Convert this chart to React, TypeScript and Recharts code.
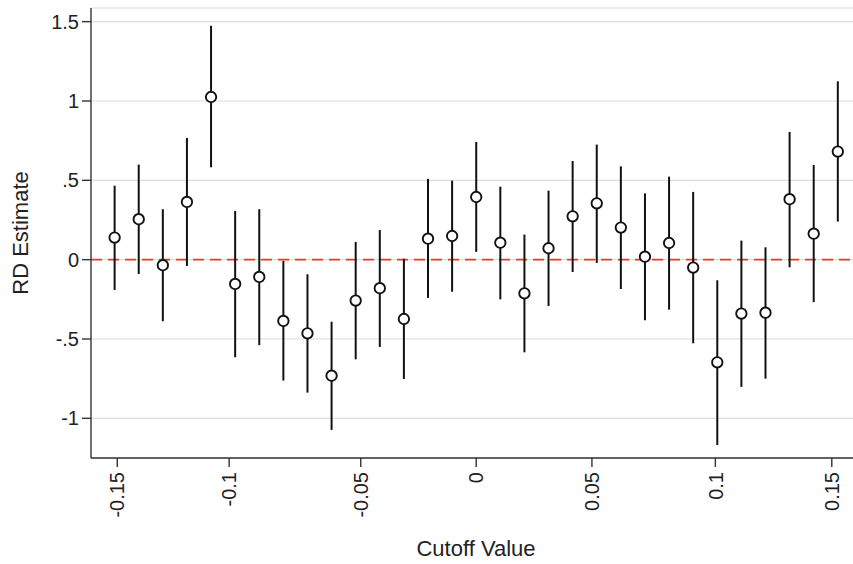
import { ScatterChart, Scatter, XAxis, YAxis, CartesianGrid, ErrorBar, ReferenceLine } from "recharts";

// cutoff values of each RD estimate
const cutoffs = [
  -0.15, -0.14, -0.13, -0.12, -0.11, -0.1, -0.09, -0.08, -0.07, -0.06, -0.05,
  -0.04, -0.03, -0.02, -0.01, 0, 0.01, 0.02, 0.03, 0.04, 0.05,
  0.06, 0.07, 0.08, 0.09, 0.1, 0.11, 0.12, 0.13, 0.14, 0.15,
];

const estimates = [
  0.139, 0.255, -0.035, 0.364, 1.025, -0.153, -0.109, -0.386, -0.464, -0.731, -0.258,
  -0.18, -0.374, 0.132, 0.149, 0.395, 0.107, -0.212, 0.072, 0.273, 0.355,
  0.202, 0.019, 0.105, -0.05, -0.647, -0.34, -0.334, 0.381, 0.164, 0.681,
];

const lower = [
  -0.191, -0.09, -0.388, -0.04, 0.582, -0.615, -0.539, -0.762, -0.838, -1.073, -0.628,
  -0.55, -0.752, -0.241, -0.202, 0.049, -0.25, -0.584, -0.292, -0.078, -0.021,
  -0.185, -0.382, -0.315, -0.527, -1.168, -0.802, -0.75, -0.048, -0.268, 0.24,
];

const upper = [
  0.466, 0.599, 0.318, 0.767, 1.474, 0.307, 0.318, -0.008, -0.092, -0.391, 0.112,
  0.187, 0.006, 0.509, 0.498, 0.742, 0.46, 0.158, 0.435, 0.622, 0.725,
  0.588, 0.418, 0.523, 0.427, -0.13, 0.12, 0.078, 0.805, 0.597, 1.124,
];

// x tick marks sit where the original graph put them
const xTickPos = [-0.1489, -0.1025, -0.0479, 0, 0.048, 0.0992, 0.1475];
const xTickLabels = ["-0.15", "-0.1", "-0.05", "0", "0.05", "0.1", "0.15"];

const yTicks = [-1, -0.5, 0, 0.5, 1, 1.5];
const yTickLabels = ["-1", "-.5", "0", ".5", "1", "1.5"];

const data = cutoffs.map((c, i) => ({
  x: c,
  y: estimates[i],
  err: [estimates[i] - lower[i], upper[i] - estimates[i]],
}));

const font = "'Liberation Sans', Arial, sans-serif";

const XTick = (props: any) => {
  const { x, y, index } = props;
  return (
    <text
      x={x}
      y={y}
      transform={`rotate(-90 ${x} ${y})`}
      textAnchor="end"
      dy="0.36em"
      fontSize={20}
      fill="#222"
      fontFamily={font}
    >
      {xTickLabels[index]}
    </text>
  );
};

const HollowCircle = (props: any) => (
  <circle cx={props.cx} cy={props.cy} r={5.2} fill="#fff" stroke="#111" strokeWidth={1.9} />
);

export default function App() {
  return (
    <div style={{ position: "absolute", left: 0, top: 0, background: "#fff", fontFamily: font }}>
      <ScatterChart width={853} height={564} margin={{ top: 8, right: 0, bottom: 0, left: 0 }}>
        <CartesianGrid vertical={false} stroke="#dcdcdc" strokeWidth={1.2} />
        <XAxis
          type="number"
          dataKey="x"
          domain={[-0.1598, 0.1563]}
          allowDataOverflow
          ticks={xTickPos}
          interval={0}
          height={106}
          tickSize={9}
          tickMargin={5}
          tick={<XTick />}
          stroke="#333"
          strokeWidth={1.4}
          label={{
            content: () => (
              <text x={476} y={556} textAnchor="middle" fontSize={22} fill="#222" fontFamily={font}>
                Cutoff Value
              </text>
            ),
          }}
        />
        <YAxis
          type="number"
          dataKey="y"
          domain={[-1.25, 1.586]}
          allowDataOverflow
          ticks={yTicks}
          interval={0}
          width={91}
          tickSize={9}
          tickMargin={3}
          tickFormatter={(v: number) => yTickLabels[yTicks.indexOf(v)]}
          tick={{ fontSize: 20, fill: "#222", fontFamily: font }}
          stroke="#333"
          strokeWidth={1.4}
          label={{
            content: () => (
              <text
                x={20}
                y={233}
                transform="rotate(-90 20 233)"
                textAnchor="middle"
                dy="0.36em"
                fontSize={22}
                fill="#222"
                fontFamily={font}
              >
                RD Estimate
              </text>
            ),
          }}
        />
        <ReferenceLine y={0} stroke="#ff3030" strokeWidth={1.8} strokeDasharray="11 6" />
        <Scatter data={data} shape={<HollowCircle />} isAnimationActive={false}>
          <ErrorBar dataKey="err" direction="y" width={0} stroke="#111" strokeWidth={2} isAnimationActive={false} />
        </Scatter>
      </ScatterChart>
    </div>
  );
}
